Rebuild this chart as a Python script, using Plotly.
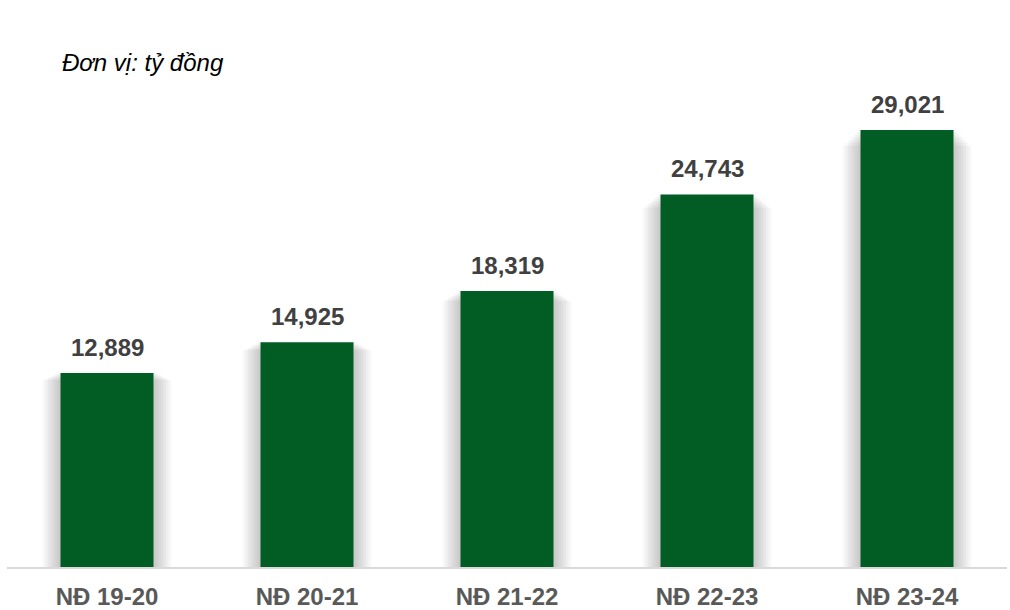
import plotly.graph_objects as go

categories = ["NĐ 19-20", "NĐ 20-21", "NĐ 21-22", "NĐ 22-23", "NĐ 23-24"]
values = [12889, 14925, 18319, 24743, 29021]
labels = ["12,889", "14,925", "18,319", "24,743", "29,021"]

FONT = "Liberation Sans, Arial, sans-serif"
fig = go.Figure()

# soft shadow layers behind bars
for k in range(7):
    fig.add_trace(go.Bar(
        x=categories, y=[v * (1.0 - 0.006 * k) for v in values],
        width=0.465 + 0.025 * (k + 1),
        marker=dict(color="rgba(0,0,0,0.03)", line=dict(width=0)),
        hoverinfo="skip", showlegend=False,
    ))

fig.add_trace(go.Bar(
    x=categories, y=values, width=0.465,
    marker=dict(color="#025D25", line=dict(width=0)),
    hoverinfo="skip", showlegend=False,
))

annotations = [dict(
    x=c, y=v, text="<b>%s</b>" % t, xref="x", yref="y",
    showarrow=False, yanchor="bottom", yshift=10,
    font=dict(family=FONT, size=24, color="#404040"),
) for c, v, t in zip(categories, values, labels)]

annotations.append(dict(
    text="<i>Đơn vị: tỷ đồng</i>", x=(60 - 7) / 1000, y=(567 - 62) / 547,
    xref="paper", yref="paper", showarrow=False,
    font=dict(family=FONT, size=24, color="#000000"),
    xanchor="left", yanchor="middle",
))

fig.update_layout(
    width=1010, height=610,
    margin=dict(l=7, r=3, t=20, b=43),
    paper_bgcolor="white", plot_bgcolor="white",
    barmode="overlay",
    xaxis=dict(
        range=[-0.5, 4.5], showgrid=False, showline=True,
        linecolor="#d9d9d9", linewidth=2, ticks="",
        tickfont=dict(family=FONT, size=24, color="#595959"),
        tickvals=categories, ticktext=["<b>%s</b>" % c for c in categories],
        ticklabelstandoff=7, automargin=False,
    ),
    yaxis=dict(range=[0, 36322], visible=False, showgrid=False),
    annotations=annotations,
)
fig.write_html("out.html", config={"displayModeBar": False},
               post_script="document.body.style.margin='0';")
